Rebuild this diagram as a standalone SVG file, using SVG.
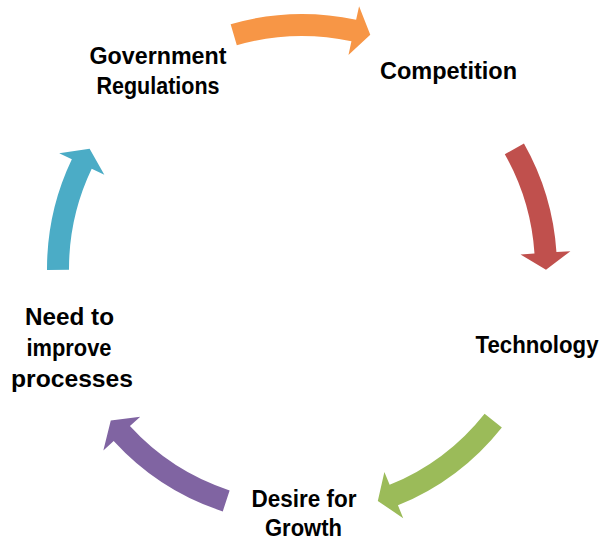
<svg xmlns="http://www.w3.org/2000/svg" width="602" height="541" viewBox="0 0 602 541">
<style>
.t{font-family:"Liberation Sans",Arial,sans-serif;font-weight:bold;font-size:23px;fill:#000;text-anchor:middle}
</style>
<rect width="602" height="541" fill="#fff"/>
<g id="connectors">
<path id="arrow-orange" fill="#F79646" d="M230.65,24.2 A255,255 0 0 1 356.11,19.81 L359.08,6.13 L370.27,34.76 L348.47,54.99 L351.44,41.31 A233,233 0 0 0 236.81,45.32 Z"/>
<path id="arrow-red" fill="#C0504D" d="M523.95,143.44 A255,255 0 0 1 556.44,252.09 L570.41,251.17 L546,269.85 L520.52,254.48 L534.49,253.55 A233,233 0 0 0 504.8,154.27 Z"/>
<path id="arrow-green" fill="#9BBB59" d="M501.84,427.38 A255,255 0 0 1 397.93,505.26 L403.2,518.23 L377.81,500.92 L384.39,471.9 L389.65,484.87 A233,233 0 0 0 484.6,413.72 Z"/>
<path id="arrow-purple" fill="#8064A2" d="M222.77,511.38 A255,255 0 0 1 113.68,440.95 L103.34,450.39 L110.78,420.55 L140.27,416.67 L129.93,426.11 A233,233 0 0 0 229.61,490.47 Z"/>
<path id="arrow-teal" fill="#4BACC6" d="M47,269.89 A255,255 0 0 1 71.84,159.22 L59.2,153.2 L89.62,148.85 L104.33,174.72 L91.69,168.69 A233,233 0 0 0 69,269.81 Z"/>
</g>
<g id="node-government">
<text class="t" x="158" y="64" textLength="137" lengthAdjust="spacingAndGlyphs">Government</text>
<text class="t" x="158" y="94" textLength="123" lengthAdjust="spacingAndGlyphs">Regulations</text>
</g>
<g id="node-competition">
<text class="t" x="448.5" y="79" textLength="137" lengthAdjust="spacingAndGlyphs">Competition</text>
</g>
<g id="node-technology">
<text class="t" x="537" y="353" textLength="123" lengthAdjust="spacingAndGlyphs">Technology</text>
</g>
<g id="node-growth">
<text class="t" x="304" y="507" textLength="105" lengthAdjust="spacingAndGlyphs">Desire for</text>
<text class="t" x="303.5" y="536" textLength="77" lengthAdjust="spacingAndGlyphs">Growth</text>
</g>
<g id="node-processes">
<text class="t" x="69.5" y="325" textLength="89" lengthAdjust="spacingAndGlyphs">Need to</text>
<text class="t" x="69" y="356" textLength="85" lengthAdjust="spacingAndGlyphs">improve</text>
<text class="t" x="72" y="387" textLength="122" lengthAdjust="spacingAndGlyphs">processes</text>
</g>
</svg>
